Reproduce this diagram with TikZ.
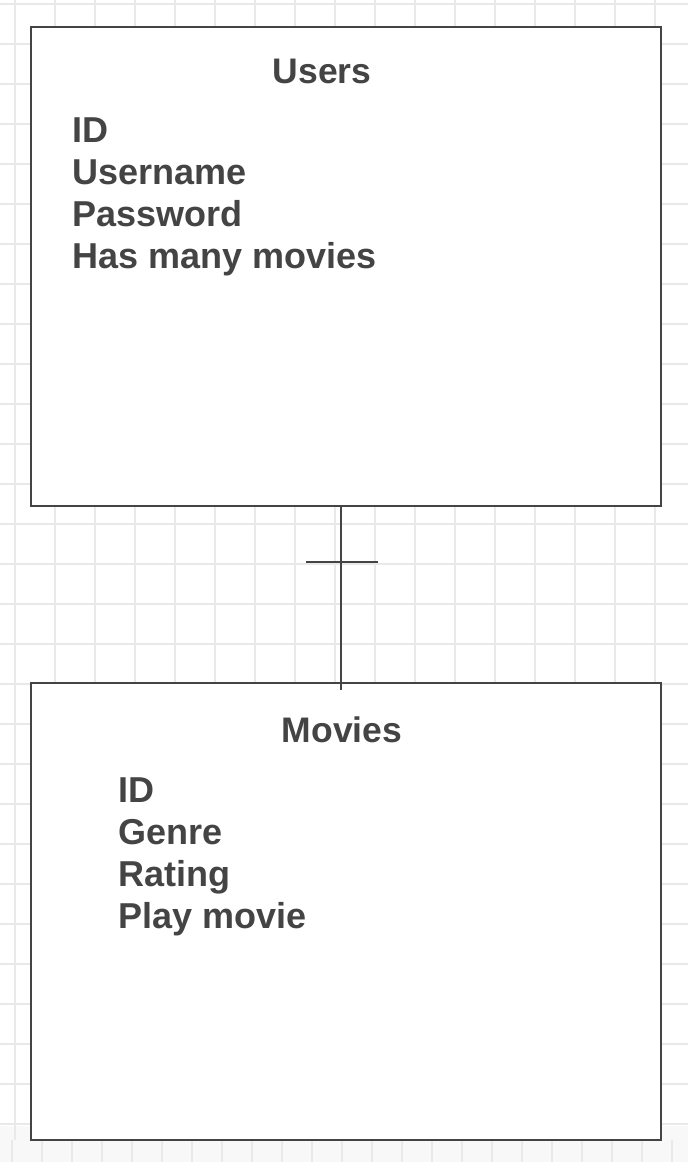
\documentclass[tikz,border=0pt]{standalone}
\usepackage{fontspec}
\setmainfont{Liberation Sans}
\definecolor{ink}{HTML}{444444}
\definecolor{gridgray}{HTML}{E9E9E9}
\definecolor{stripgray}{HTML}{F8F8F8}

\begin{document}
\begin{tikzpicture}[
      x=1pt, y=-1pt,
      entity/.style={draw=ink, line width=2pt, fill=white, inner sep=0pt},
      title/.style={font=\fontsize{35.5}{42}\selectfont\bfseries, text=ink, inner sep=0pt, anchor=base},
      field/.style={font=\fontsize{36}{42}\selectfont\bfseries, text=ink, inner sep=0pt, anchor=base west},
      gridline/.style={draw=gridgray, line width=1.5pt},
      link/.style={draw=ink, line width=1.6pt}
    ]
    \useasboundingbox (0,0) rectangle (688,1162);

    % Background grid
    \fill[stripgray] (0,1126) rectangle (688,1162);
    \foreach \gx in {15,55,...,655}
      \draw[gridline] (\gx,0) -- (\gx,1140);
    \foreach \gy in {4,44,...,1124}
      \draw[gridline] (0,\gy) -- (688,\gy);
    \foreach \gx in {12,42,...,672}
      \draw[gridline] (\gx,1140) -- (\gx,1162);

    % Users
    \node[entity, minimum width=630pt, minimum height=479pt] (users) at (346,266.5) {};
    \node[title] (userstitle) at (322,83) {Users};
    \foreach \f [count=\i from 0] in {ID,Username,Password,Has many movies}
      \node[field] (userfield\i) at (72,142+42*\i) {\f};

    % Movies
    \node[entity, minimum width=630pt, minimum height=457pt] (movies) at (346,911.5) {};
    \node[title] (moviestitle) at (342,742) {Movies};
    \foreach \f [count=\i from 0] in {ID,Genre,Rating,Play movie}
      \node[field] (moviefield\i) at (118,802+42*\i) {\f};

    % Relation
    \coordinate (linktop) at ([xshift=-5pt]users.south);
    \coordinate (linkend) at ([xshift=-5pt,yshift=-8pt]movies.north);
    \coordinate (tickleft) at ([xshift=-35pt,yshift=-55pt]linktop);
    \coordinate (tickright) at ([xshift=37pt,yshift=-55pt]linktop);
    \draw[link] (linktop) -- (linkend);
    \draw[link] (tickleft) -- (tickright);
  \end{tikzpicture}
\end{document}
